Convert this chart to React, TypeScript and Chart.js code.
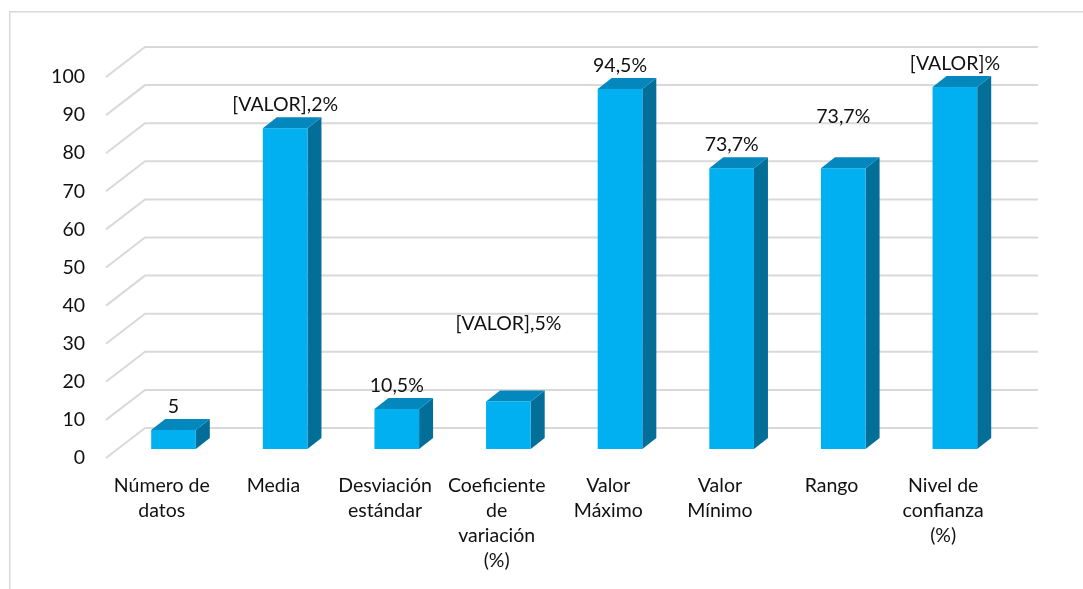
import React, { useEffect, useRef } from "react";
import { Chart, registerables } from "chart.js";

Chart.register(...registerables);

const categories: string[][] = [
  ["Número de", "datos"],
  ["Media"],
  ["Desviación", "estándar"],
  ["Coeficiente", "de", "variación", "(%)"],
  ["Valor", "Máximo"],
  ["Valor", "Mínimo"],
  ["Rango"],
  ["Nivel de", "confianza", "(%)"],
];
const values: number[] = [5, 84.2, 10.5, 12.5, 94.5, 73.7, 73.7, 95];
const valueLabels: string[] = ["5", "[VALOR],2%", "10,5%", "[VALOR],5%", "94,5%", "73,7%", "73,7%", "[VALOR]%"];
// where each data label sits, in axis units (two labels were moved by hand in the original)
const labelAnchors: number[] = [5, 84.2, 10.5, 26.6, 94.5, 73.7, 81.0, 95];
const yMin = 0;
const yMax = 100;
const yStep = 10;

const FONT = "Lato, 'Open Sans', sans-serif";
const FONT_SIZE = 19.5;
const TEXT = "#111111";
const FRONT = "#00B0F0";
const TOP = "#0487BD";
const SIDE = "#036E97";
const GRID = "#D9D9D9";

// 3D geometry (pixels)
const WALL_DX = 39;
const WALL_DY = -30;
const BAR_OX = 11.7;
const BAR_OY = -9;
const BAR_DX = 14;
const BAR_DY = -11;

const threeD = {
  id: "threeD",
  beforeDraw(chart: any) {
    const { ctx } = chart;
    ctx.save();
    ctx.strokeStyle = GRID;
    ctx.lineWidth = 1.5;
    ctx.strokeRect(9.75, 11.75, 1200, 700);
    ctx.restore();
  },
  beforeDatasetsDraw(chart: any) {
    const { ctx, chartArea } = chart;
    const y = chart.scales.y;
    ctx.save();
    ctx.strokeStyle = GRID;
    ctx.lineWidth = 2;
    for (let v = yMin; v <= yMax; v += yStep) {
      const yf = y.getPixelForValue(v);
      ctx.beginPath();
      ctx.moveTo(chartArea.left, yf);
      ctx.lineTo(chartArea.left + WALL_DX, yf + WALL_DY);
      ctx.lineTo(chartArea.right + WALL_DX, yf + WALL_DY);
      ctx.stroke();
    }
    ctx.restore();
  },
  afterDatasetsDraw(chart: any) {
    const { ctx } = chart;
    const y = chart.scales.y;
    const meta = chart.getDatasetMeta(0);
    ctx.save();
    meta.data.forEach((el: any, i: number) => {
      const w = el.width;
      const xl = el.x - w / 2 + BAR_OX;
      const xr = el.x + w / 2 + BAR_OX;
      const yt = el.y + BAR_OY;
      const yb = el.base + BAR_OY;
      // side
      ctx.fillStyle = SIDE;
      ctx.beginPath();
      ctx.moveTo(xr, yt);
      ctx.lineTo(xr + BAR_DX, yt + BAR_DY);
      ctx.lineTo(xr + BAR_DX, yb + BAR_DY);
      ctx.lineTo(xr, yb);
      ctx.closePath();
      ctx.fill();
      // top
      ctx.fillStyle = TOP;
      ctx.beginPath();
      ctx.moveTo(xl, yt);
      ctx.lineTo(xl + BAR_DX, yt + BAR_DY);
      ctx.lineTo(xr + BAR_DX, yt + BAR_DY);
      ctx.lineTo(xr, yt);
      ctx.closePath();
      ctx.fill();
      // front
      ctx.fillStyle = FRONT;
      ctx.fillRect(xl, yt, xr - xl, yb - yt);

      // data label
      const ly = y.getPixelForValue(labelAnchors[i]) + BAR_OY - 23.5;
      ctx.fillStyle = TEXT;
      ctx.font = `${FONT_SIZE}px ${FONT}`;
      ctx.textAlign = "center";
      ctx.textBaseline = "middle";
      ctx.fillText(valueLabels[i], (xl + xr) / 2, ly);
    });
    ctx.restore();
  },
};

export default function App() {
  const ref = useRef<HTMLCanvasElement | null>(null);
  useEffect(() => {
    if (!ref.current) return;
    const chart = new Chart(ref.current, {
      type: "bar",
      data: {
        labels: categories as any,
        datasets: [
          {
            data: values,
            backgroundColor: "rgba(0,0,0,0)",
            borderWidth: 0,
            barPercentage: 0.4,
            categoryPercentage: 1,
          },
        ],
      },
      options: {
        responsive: false,
        animation: false,
        events: [],
        layout: { padding: { left: 0, right: 84, top: 77, bottom: 0 } },
        plugins: { legend: { display: false }, tooltip: { enabled: false } },
        scales: {
          x: {
            grid: { display: false, drawTicks: false },
            border: { display: false },
            ticks: {
              color: TEXT,
              padding: 15,
              maxRotation: 0,
              autoSkip: false,
              font: { family: FONT, size: FONT_SIZE, lineHeight: 25 / FONT_SIZE },
            },
            afterFit: (s: any) => {
              s.height = 131;
            },
          },
          y: {
            min: yMin,
            max: yMax,
            grid: { display: false, drawTicks: false },
            border: { display: false },
            ticks: {
              stepSize: yStep,
              color: TEXT,
              padding: 21,
              font: { family: FONT, size: FONT_SIZE },
            },
            afterFit: (s: any) => {
              s.width = 106;
            },
          },
        },
      },
      plugins: [threeD],
    });
    return () => chart.destroy();
  }, []);
  return (
    <div style={{ position: "absolute", left: 0, top: 0, width: 1083, height: 589, background: "#fff" }}>
      <canvas ref={ref} width={1083} height={589} style={{ display: "block" }} />
    </div>
  );
}
